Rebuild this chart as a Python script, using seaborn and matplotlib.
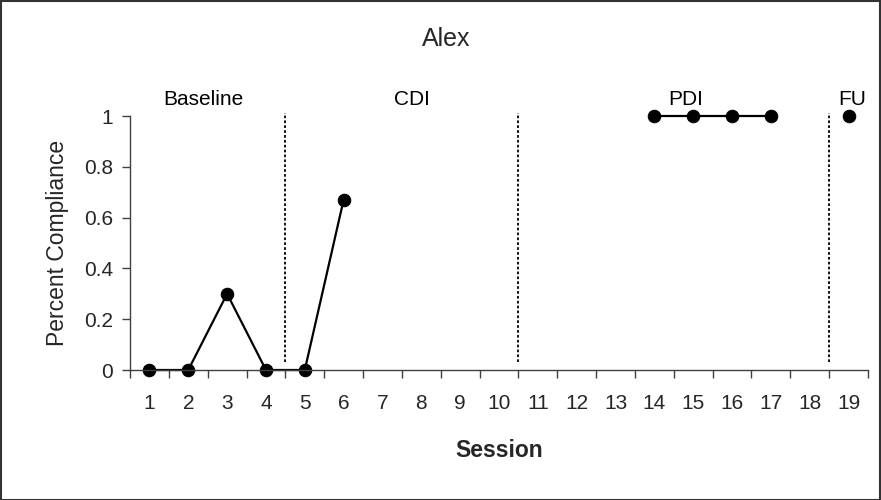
import matplotlib
matplotlib.use("Agg")
import matplotlib.pyplot as plt
import seaborn as sns
import pandas as pd
import numpy as np
from matplotlib.patches import Rectangle

# ---- data ----
sessions = list(range(1, 20))
tick_labels = [str(s) for s in sessions]
seg_sessions = [[1, 2, 3, 4, 5, 6], [14, 15, 16, 17], [19]]
seg_values = [[0, 0, 0.3, 0, 0, 0.67], [1, 1, 1, 1], [1]]
phase_names = ["Baseline", "CDI", "PDI", "FU"]
phase_label_x = [2.4, 7.75, 14.8, 19.1]
phase_breaks = [4.5, 10.5, 18.5]
title = "Alex"

sns.set_theme(style="white")
plt.rcParams["font.family"] = ["Liberation Sans", "DejaVu Sans"]

rows = []
for k, (xs, ys) in enumerate(zip(seg_sessions, seg_values)):
    for x, y in zip(xs, ys):
        rows.append({"Session": x, "Compliance": y, "seg": k})
df = pd.DataFrame(rows)

fig = plt.figure(figsize=(8.81, 5.0), dpi=100)
ax = fig.add_axes([130 / 881, 1 - 370 / 500, (868 - 130) / 881, (370 - 116) / 500])

sns.lineplot(data=df, x="Session", y="Compliance", units="seg", estimator=None,
             color="black", lw=1.6, marker="o", markersize=9, markeredgecolor="black",
             markerfacecolor="black", ax=ax, clip_on=False, legend=False)

ax.set_xlim(0.5, 19.5)
ax.set_ylim(0, 1)
ax.vlines(phase_breaks, 0.03, 1.01, colors="black", linestyles=(0, (1.5, 1.2)),
          lw=1.3, clip_on=False)

for name, x in zip(phase_names, phase_label_x):
    ax.text(x, 1.043, name, ha="center", va="baseline", fontsize=15, color="black")

ax.set_yticks([0, 0.2, 0.4, 0.6, 0.8, 1.0])
ax.set_yticklabels(["0", "0.2", "0.4", "0.6", "0.8", "1"])
ax.set_xticks(np.arange(0.5, 20, 1))
ax.set_xticklabels([])
ax.set_xticks(sessions, minor=True)
ax.set_xticklabels(tick_labels, minor=True)
ax.tick_params(axis="x", which="major", direction="out", length=6, width=1, color="#404040", bottom=True)
ax.tick_params(axis="x", which="minor", length=0, pad=17, labelsize=15, bottom=True)
ax.tick_params(axis="y", direction="out", length=6, width=1, color="#404040", labelsize=15, pad=6, left=True)

for s in ["top", "right"]:
    ax.spines[s].set_visible(False)
for s in ["left", "bottom"]:
    ax.spines[s].set_color("#404040")
    ax.spines[s].set_linewidth(1)

ax.set_xlabel("Session", fontsize=16.5, fontweight="bold")
ax.set_ylabel("Percent Compliance", fontsize=16.5)
ax.xaxis.set_label_coords(0.5, -0.272)
ax.yaxis.set_label_coords(-0.083, 0.5)

fig.text(446 / 881, 1 - 39 / 500, title, ha="center", va="center", fontsize=18)

fig.patches.append(Rectangle((0.5 / 881, 0.5 / 500), 879.5 / 881, 498.5 / 500,
                             transform=fig.transFigure, fill=False,
                             edgecolor="#333333", lw=1.5))

fig.savefig("out.png", dpi=100)
